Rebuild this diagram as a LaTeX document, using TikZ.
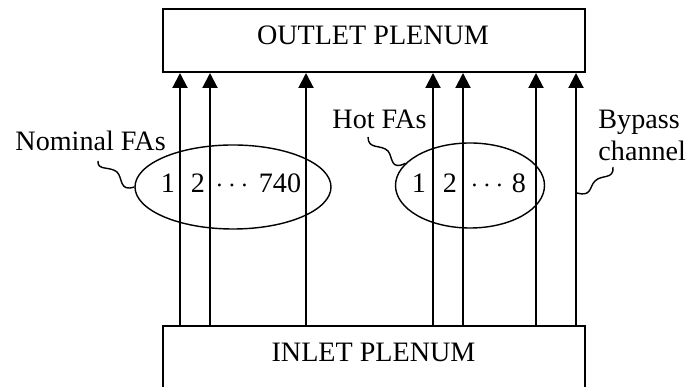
\documentclass[tikz,border=0pt]{standalone}
\usepackage{fontspec}
\setmainfont{Liberation Serif}
\usetikzlibrary{arrows.meta, positioning, shapes.geometric, calc}

\begin{document}
\begin{tikzpicture}[x=0.015cm, y=-0.015cm, font=\fontsize{12}{14}\selectfont]
    \tikzset{
        plenum/.style={rectangle, draw, line width=0.85pt, minimum width=6.33cm, inner sep=0pt},
        flow/.style={line width=0.85pt, -{Triangle[length=6.4pt, width=6.4pt]}},
        fagroup/.style={ellipse, draw, line width=0.6pt, inner sep=0pt},
        fanum/.style={anchor=base, inner sep=0pt},
        tag/.style={anchor=base west, inner sep=0pt},
        squiggle/.style={line width=0.6pt},
    }
    \useasboundingbox (0,0) rectangle (688,387);
    \clip (0,0) rectangle (688,387);

    % Plenum boxes
    \node[plenum, minimum height=0.945cm] (outlet) at (374,40.5) {};
    \node[fanum] (outlettext) at (373,45) {OUTLET PLENUM};
    \node[plenum, minimum height=1.11cm] (inlet) at (374,363) {};
    \node[fanum] (inlettext) at (373.5,362) {INLET PLENUM};

    % Channel positions
    \coordinate (c1) at (180,0);
    \coordinate (c2) at (210,0);
    \coordinate (c3) at (306,0);
    \coordinate (c4) at (433,0);
    \coordinate (c5) at (463,0);
    \coordinate (c6) at (536,0);
    \coordinate (c7) at (576,0);

    % Flow channels
    \draw[flow] (inlet.north -| c1) -- (outlet.south -| c1);
    \draw[flow] (inlet.north -| c2) -- (outlet.south -| c2);
    \draw[flow] (inlet.north -| c3) -- (outlet.south -| c3);
    \draw[flow] (inlet.north -| c4) -- (outlet.south -| c4);
    \draw[flow] (inlet.north -| c5) -- (outlet.south -| c5);
    \draw[flow] (inlet.north -| c6) -- (outlet.south -| c6);
    \draw[flow] (inlet.north -| c7) -- (outlet.south -| c7);

    % Assembly groups
    \node[fagroup, minimum width=2.94cm, minimum height=1.26cm] (nominal) at (233,187) {};
    \node[fanum] (nom1) at (168,193) {1};
    \node[fanum] (nom2) at (198,193) {2};
    \node[fanum] (nomdots) at (232,193) {$\cdots$};
    \node[fanum] (nomlast) at (280,193) {740};

    \node[fagroup, minimum width=2.235cm, minimum height=1.275cm] (hot) at (470,185.5) {};
    \node[fanum] (hot1) at (419,193) {1};
    \node[fanum] (hot2) at (450,193) {2};
    \node[fanum] (hotdots) at (487,193) {$\cdots$};
    \node[fanum] (hotlast) at (519,193) {8};

    % Labels
    \node[tag] (nomlabel) at (15,151) {Nominal FAs};
    \node[tag] (hotlabel) at (332,129) {Hot FAs};
    \node[tag, align=left] (bylabel) at (598,161) {Bypass\\channel};

    % Squiggly leaders
    \coordinate (nomtail) at (98,161);
    \coordinate (hottail) at (368,137);
    \coordinate (bytail) at (613,167);
    \coordinate (bymeet) at (577,193);
    \draw[squiggle] (nomtail) .. controls (97,171) and (110,166) .. (117,172)
        .. controls (123,178) and (119,192) .. (nominal.west);
    \draw[squiggle] (hottail) .. controls (368,150) and (381,144) .. (388,151)
        .. controls (393,157) and (390,171) .. (hot.161);
    \draw[squiggle] (bytail) .. controls (614,180) and (602,174) .. (595,181)
        .. controls (589,187) and (592,197) .. (bymeet);
\end{tikzpicture}
\end{document}
